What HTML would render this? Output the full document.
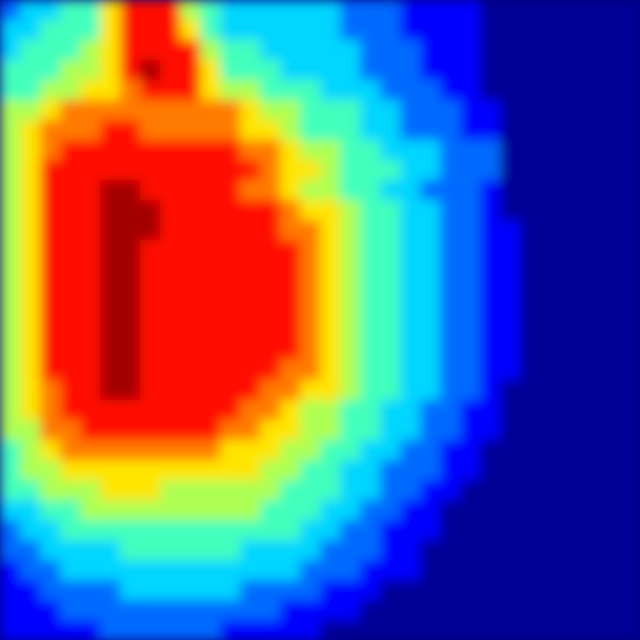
<!DOCTYPE html>
<html><head><meta charset="utf-8"><style>html,body{margin:0;padding:0;background:#000080;}svg{display:block}</style></head>
<body>
<svg id="chart" width="640" height="640" viewBox="0 0 640 640">
<defs><filter id="bl" x="0" y="0" width="1" height="1"><feGaussianBlur stdDeviation="6" edgeMode="duplicate"/></filter></defs>
<rect x="0" y="0" width="640" height="640" fill="#000080"/>
<g id="cells" filter="url(#bl)"></g>
</svg>
<script>
const heatRows = [
"2334468885433333322211110",
"3344468886433333322211110",
"3444568888544333332221110",
"4445568988644433332221110",
"4455667888655444333222110",
"55677777777765544433222110",
"56777887777766544433222110",
"56788888888877655443332220",
"56888888888887665444332220",
"56888998888877655443322210",
"56888999888888766544332210",
"568889998888887765443322110",
"568889988888888765443322110",
"568889988888888765443322110",
"568889988888888765443322110",
"568889988888888765443322110",
"568889988888888765443322110",
"568889988888888765443322110",
"568889988888887765443322110",
"56788998888887766544332210",
"56788888888877655443322110",
"55778888888776655443322110",
"4567777777766655443322110",
"4556666666666554433222110",
"445556665555554443322110",
"33445555555554443322110",
"23344444444444433221110",
"2233334444443333222110",
"122333333333333222111",
"11222233333322221110",
"1112222222222211110",
"11111222222111110"
];
const nCols = 32;
const nRows = 32;
function xScale(c){ return c * 640 / nCols; }
function yScale(r){ return r * 640 / nRows; }
function jet(t){
  const cl = v => Math.max(0, Math.min(1, v));
  const r = cl(1.5 - Math.abs(4*t - 3));
  const g = cl(1.5 - Math.abs(4*t - 2));
  const b = cl(1.5 - Math.abs(4*t - 1));
  return `rgb(${Math.round(r*255)},${Math.round(g*255)},${Math.round(b*255)})`;
}
function colorScale(v){ return jet(0.02 + v*0.105); }
const g = document.getElementById('cells');
const NS = 'http://www.w3.org/2000/svg';
for (let r = 0; r < nRows; r++) {
  const row = heatRows[r] || '';
  for (let c = 0; c < nCols; c++) {
    const v = c < row.length ? parseInt(row[c], 10) : 0;
    const el = document.createElementNS(NS, 'rect');
    
    
    el.setAttribute('x', xScale(c));
    el.setAttribute('y', yScale(r));
    el.setAttribute('width', 640/nCols + 0.5);
    el.setAttribute('height', 640/nRows + 0.5);
    el.setAttribute('fill', colorScale(v));
    g.appendChild(el);
  }
}
</script>
</body></html>
